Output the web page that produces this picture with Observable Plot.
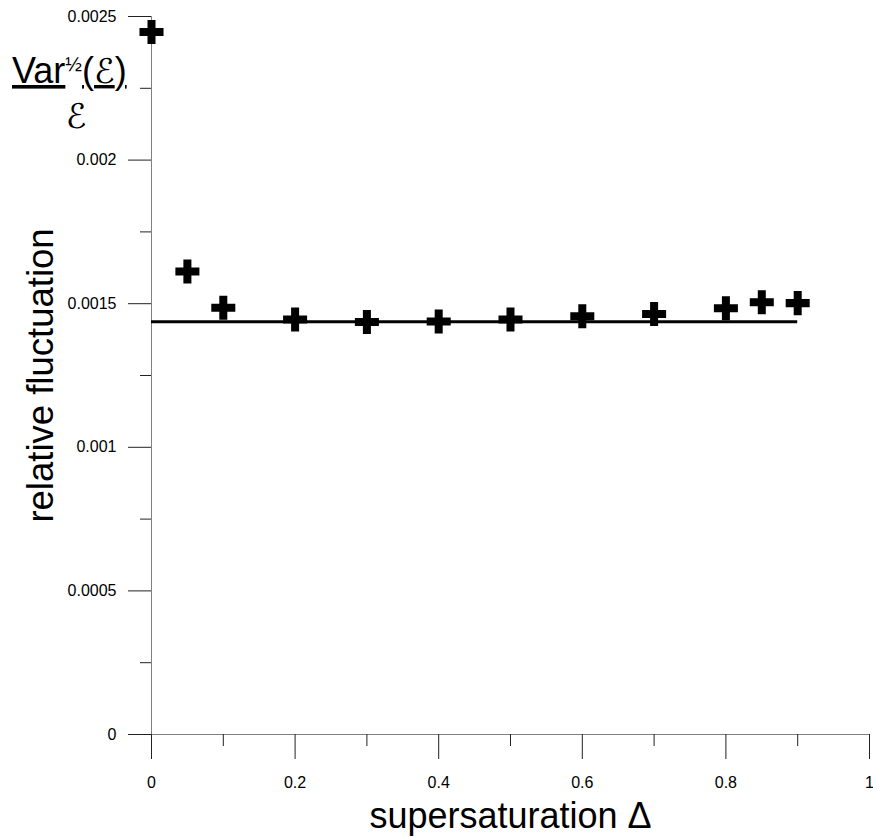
<!DOCTYPE html>
<html>
<head>
<meta charset="utf-8">
<script src="https://cdn.jsdelivr.net/npm/d3@7"></script>
<script src="https://cdn.jsdelivr.net/npm/@observablehq/plot@0.6"></script>
<style>body{margin:0;background:#fff}</style>
</head>
<body>
<div id="chart"></div>
<script>
const supersaturation = [0, 0.05, 0.1, 0.2, 0.3, 0.4, 0.5, 0.6, 0.7, 0.8, 0.85, 0.9];
const relFluct = [0.002446, 0.0016125, 0.001486, 0.001445, 0.001436, 0.001438, 0.001445, 0.001456, 0.001464, 0.001484, 0.001505, 0.001502];
const fitValue = [0.001437];
const fitRange = [0, 0.9];
const xMajorTicks = [0, 0.2, 0.4, 0.6, 0.8, 1];
const xMajorLabels = ["0", "0.2", "0.4", "0.6", "0.8", "1"];
const xMinorTicks = [0.1, 0.3, 0.5, 0.7, 0.9];
const yMajorTicks = [0, 0.0005, 0.001, 0.0015, 0.002, 0.0025];
const yMajorLabels = ["0", "0.0005", "0.001", "0.0015", "0.002", "0.0025"];
const yMinorTicks = [0.00025, 0.00075, 0.00125, 0.00175, 0.00225];
const xLabel = "supersaturation \u0394";
const yLabel = "relative fluctuation";

const points = supersaturation.map((x, i) => ({x, y: relFluct[i]}));
const font = "'Liberation Sans', Arial, Helvetica, sans-serif";
const axisColor = "#808080";
const tickColor = "#222";

const chart = Plot.plot({
  width: 873,
  height: 837,
  marginLeft: 151,
  marginRight: 4,
  marginTop: 16,
  marginBottom: 103,
  x: {domain: [0, 1]},
  y: {domain: [0, 0.0025]},
  style: {fontFamily: font, fontSize: "16px", background: "white", color: "black"},
  marks: [
    Plot.ruleY([0], {insetLeft: -23, stroke: axisColor, strokeWidth: 1}),
    Plot.ruleX([0], {insetBottom: -25, stroke: axisColor, strokeWidth: 1}),
    Plot.axisX(xMajorTicks, {tickSize: 25, tickPadding: 17, stroke: tickColor, fill: "black", fontSize: 16,
      tickFormat: d => xMajorLabels[xMajorTicks.indexOf(d)], label: null}),
    Plot.axisX(xMinorTicks, {tickSize: 12, stroke: tickColor, tickFormat: () => "", label: null}),
    Plot.axisY(yMajorTicks, {tickSize: 23, tickPadding: 12, stroke: tickColor, fill: "black", fontSize: 16,
      tickFormat: d => yMajorLabels[yMajorTicks.indexOf(d)], label: null}),
    Plot.axisY(yMinorTicks, {tickSize: 11, stroke: tickColor, tickFormat: () => "", label: null}),
    Plot.ruleY(fitValue, {x1: fitRange[0], x2: fitRange[1], stroke: "black", strokeWidth: 3}),
    Plot.dot(points, {x: "x", y: "y", symbol: "cross", r: 10.1, fill: "black", stroke: "none"}),
    Plot.text([yLabel], {frameAnchor: "left", textAnchor: "middle", dx: -99, rotate: -90, lineAnchor: "bottom", fontSize: 36.5, fill: "black"}),
    Plot.text([xLabel], {frameAnchor: "bottom", textAnchor: "middle", dy: 93, lineAnchor: "bottom", fontSize: 36, fill: "black"})
  ]
});

document.getElementById("chart").appendChild(chart);

// Fraction-style header: Var^(1/2)(E) over E
const svg = d3.select(chart);
const scriptFont = "'DejaVu Serif', 'DejaVu Sans', serif";
const t = svg.append("text")
  .attr("x", 12).attr("y", 83).attr("text-anchor", "start")
  .attr("font-size", 36).attr("font-family", font).attr("fill", "black");
t.append("tspan").attr("text-decoration", "underline").text("Var");
t.append("tspan").attr("font-size", 20).attr("dy", -12).text("\u00BD");
t.append("tspan").attr("dy", 12).attr("text-decoration", "underline").text("(");
t.append("tspan").attr("text-decoration", "underline").attr("font-family", scriptFont)
  .attr("font-style", "italic").attr("font-size", 34).text("\u2130");
t.append("tspan").attr("text-decoration", "underline").text(")");
svg.append("text")
  .attr("x", 76).attr("y", 128).attr("text-anchor", "middle")
  .attr("font-size", 34).attr("font-family", scriptFont).attr("font-style", "italic")
  .attr("fill", "black").text("\u2130");
</script>
</body>
</html>
